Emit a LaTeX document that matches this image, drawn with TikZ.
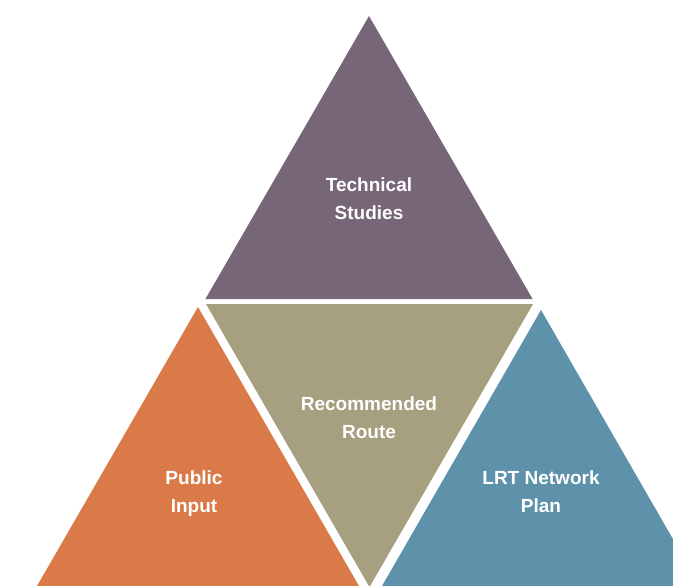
\documentclass[tikz,border=0pt]{standalone}
\usepackage{fontspec}
\setmainfont{Liberation Sans}
\definecolor{cpurple}{RGB}{119,101,120}
\definecolor{ctan}{RGB}{166,159,128}
\definecolor{corange}{RGB}{217,122,72}
\definecolor{cblue}{RGB}{94,145,170}
\begin{document}
\begin{tikzpicture}[x=1pt,y=-1pt,
  lbl/.style={text=white,font=\fontsize{19}{28}\selectfont\bfseries,align=center,inner sep=0pt}]
\useasboundingbox (0,0) rectangle (673,586);
\begin{scope}
\clip (0,0) rectangle (673,586);
\fill[cpurple] (369,16) -- (532.6,299) -- (205.4,299) -- cycle;
\fill[ctan] (206,304) -- (533,304) -- (369.5,587) -- cycle;
\fill[corange] (198,307) -- (359,586) -- (37,586) -- cycle;
\fill[cblue] (541,310) -- (700,586) -- (382,586) -- cycle;
\end{scope}
\node[lbl] (tech) at (369,199) {Technical\\Studies};
\node[lbl] (rec) at (369,418) {Recommended\\Route};
\node[lbl] (pub) at (194,494) {Public\\Input};
\node[lbl] (lrt) at (541,492) {LRT Network\\Plan};
\end{tikzpicture}
\end{document}
